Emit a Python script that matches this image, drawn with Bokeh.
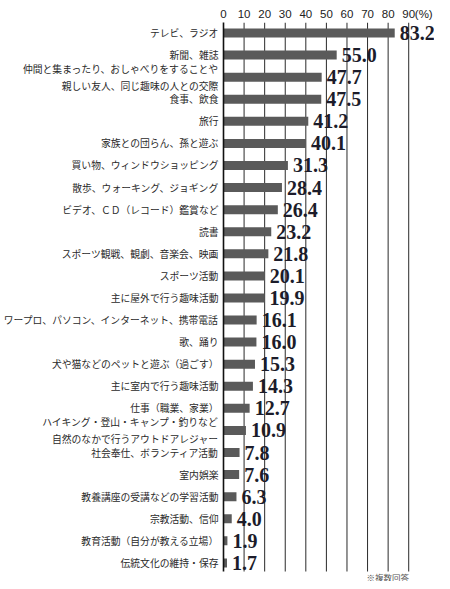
from bokeh.plotting import figure
from bokeh.models import Range1d, FixedTicker
from bokeh.core.properties import value
from bokeh.embed import file_html
from bokeh.resources import INLINE

# ---------------- data ----------------
categories = [
    "テレビ、ラジオ",
    "新聞、雑誌",
    "仲間と集まったり、おしゃべりをすることや\n親しい友人、同じ趣味の人との交際",
    "食事、飲食",
    "旅行",
    "家族との団らん、孫と遊ぶ",
    "買い物、ウィンドウショッピング",
    "散歩、ウォーキング、ジョギング",
    "ビデオ、ＣＤ（レコード）鑑賞など",
    "読書",
    "スポーツ観戦、観劇、音楽会、映画",
    "スポーツ活動",
    "主に屋外で行う趣味活動",
    "ワープロ、パソコン、インターネット、携帯電話",
    "歌、踊り",
    "犬や猫などのペットと遊ぶ（過ごす）",
    "主に室内で行う趣味活動",
    "仕事（職業、家業）",
    "ハイキング・登山・キャンプ・釣りなど\n自然のなかで行うアウトドアレジャー",
    "社会奉仕、ボランティア活動",
    "室内娯楽",
    "教養講座の受講などの学習活動",
    "宗教活動、信仰",
    "教育活動（自分が教える立場）",
    "伝統文化の維持・保存",
]
values = [83.2, 55.0, 47.7, 47.5, 41.2, 40.1, 31.3, 28.4, 26.4, 23.2,
          21.8, 20.1, 19.9, 16.1, 16.0, 15.3, 14.3, 12.7, 10.9, 7.8,
          7.6, 6.3, 4.0, 1.9, 1.7]
x_ticks = [0, 10, 20, 30, 40, 50, 60, 70, 80, 90]
x_tick_labels = ["0", "10", "20", "30", "40", "50", "60", "70", "80", "90"]
unit_label = "(%)"
unit_pos = 97.3
footnote = "※複数回答"

# ---------------- layout ----------------
W, H = 434, 581
LEFT = 211
TOP = 22
PX_PER_UNIT = 2.175
ROW0 = 32.5
STEP = 22.08
GRID_BOTTOM_PX = 571.0
NOTE_PX = 576.0
BAR_PX = 9.0

n = len(categories)
rows = list(range(n))


def px_to_y(px):
    return (px - ROW0) / STEP


y_top = px_to_y(TOP)
y_bottom = px_to_y(H)
x_end = (W - LEFT) / PX_PER_UNIT

p = figure(width=W, height=H, output_backend="svg", toolbar_location=None,
           x_range=Range1d(0, x_end), y_range=Range1d(y_bottom, y_top),
           x_axis_location="above", min_border=0,
           min_border_left=LEFT, min_border_top=TOP,
           min_border_right=0, min_border_bottom=0)
p.outline_line_color = None
p.xgrid.visible = False
p.ygrid.visible = False
p.background_fill_color = "white"
p.border_fill_color = "white"

# vertical gridlines
grid_bottom = px_to_y(GRID_BOTTOM_PX)
p.segment(x0=x_ticks[1:], x1=x_ticks[1:],
          y0=[y_top] * (len(x_ticks) - 1), y1=[grid_bottom] * (len(x_ticks) - 1),
          line_color="#2a2a2a", line_width=1)

# bars
p.hbar(y=rows, left=0, right=values, height=BAR_PX / STEP,
       fill_color="#5a5a5a", line_color=None)

# value labels
p.text(x=values, y=rows, text=[f"{v:.1f}" for v in values],
       x_offset=5, text_align="left", text_baseline="middle",
       text_font=value("Liberation Serif"), text_font_style="bold",
       text_font_size="20px", text_color="#1c1c2a")

# footnote
p.text(x=[(407 - LEFT) / PX_PER_UNIT], y=[px_to_y(NOTE_PX)], text=[footnote],
       text_align="right", text_baseline="middle",
       text_font=value("Noto Sans CJK JP"), text_font_size="8.5px",
       text_color="#555555")

# top axis
xa = p.xaxis[0]
xa.ticker = FixedTicker(ticks=x_ticks + [unit_pos])
overrides = {t: lab for t, lab in zip(x_ticks, x_tick_labels)}
overrides[unit_pos] = unit_label
xa.major_label_overrides = overrides
xa.axis_line_color = None
xa.major_tick_line_color = None
xa.minor_tick_line_color = None
xa.major_tick_out = 0
xa.major_tick_in = 0
xa.major_label_standoff = 3
xa.major_label_text_font = "Liberation Sans"
xa.major_label_text_font_size = "11.5px"
xa.major_label_text_color = "#222222"

# left axis with category labels
ya = p.yaxis[0]
ya.ticker = FixedTicker(ticks=rows)
ya.major_label_overrides = {i: c for i, c in zip(rows, categories)}
ya.axis_line_color = "#111111"
ya.axis_line_width = 1.6
ya.bounds = (y_top, grid_bottom)
ya.major_tick_line_color = None
ya.minor_tick_line_color = None
ya.major_tick_out = 0
ya.major_tick_in = 0
ya.major_label_standoff = 5
ya.major_label_text_font = "Noto Sans CJK JP"
ya.major_label_text_font_size = "9.8px"
ya.major_label_text_color = "#2a2a2a"

open("out.html", "w").write(file_html(p, INLINE))
